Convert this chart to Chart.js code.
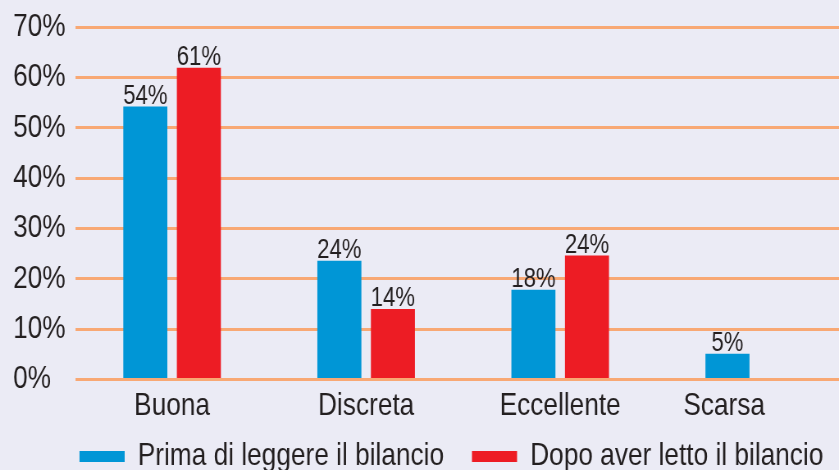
<!DOCTYPE html>
<html>
<head>
<meta charset="utf-8">
<script src="https://cdn.jsdelivr.net/npm/chart.js@4.4.0/dist/chart.umd.min.js"></script>
<style>
  html, body { margin: 0; padding: 0; background: #ebebf5; overflow: hidden; width: 839px; height: 470px; }
  #wrap { width: 1038px; height: 470px; transform: scaleX(0.8201); transform-origin: 0 0; }
</style>
</head>
<body>
<div id="wrap"><canvas id="c" width="1038" height="470"></canvas></div>
<script>
const categories = ['Buona', 'Discreta', 'Eccellente', 'Scarsa'];
const seriesNames = ['Prima di leggere il bilancio', 'Dopo aver letto il bilancio'];
const primaValues = [54.2, 23.6, 17.8, 5.1];
const dopoValues = [61.9, 14.0, 24.6, null];
const primaLabels = ['54%', '24%', '18%', '5%'];
const dopoLabels = ['61%', '14%', '24%', ''];
const yTicks = [0, 10, 20, 30, 40, 50, 60, 70];

const FONT = "'Liberation Sans', Arial, sans-serif";
const TEXT = '#231f20';
const BLUE = '#0096d6';
const RED = '#ed1c24';
const GRID = '#f8a874';

const tweaks = {
  id: 'tweaks',
  afterLayout(chart) {
    // pull the legend up towards the category labels
    const lg = chart.legend;
    lg.top -= 19;
    lg.bottom -= 19;
  },
  beforeDraw(chart) {
    // the lone "Scarsa" label sits centred under its single bar
    const xs = chart.scales.x;
    const items = xs.getLabelItems(chart.chartArea);
    const last = items[items.length - 1];
    if (last && !last._shifted) {
      last.options.translation[0] -= xs.width / categories.length * 0.155;
      last._shifted = true;
    }
  },
  afterDatasetsDraw(chart) {
    const ctx = chart.ctx;
    const texts = [primaLabels, dopoLabels];
    ctx.save();
    ctx.font = '27px ' + FONT;
    ctx.fillStyle = TEXT;
    ctx.textAlign = 'center';
    ctx.textBaseline = 'alphabetic';
    chart.data.datasets.forEach((ds, di) => {
      const meta = chart.getDatasetMeta(di);
      meta.data.forEach((bar, i) => {
        if (ds.data[i] == null) return;
        ctx.fillText(texts[di][i], bar.x, bar.y - 3);
      });
    });
    ctx.restore();
  }
};

new Chart(document.getElementById('c'), {
  type: 'bar',
  data: {
    labels: categories,
    datasets: [
      { label: seriesNames[0], data: primaValues, backgroundColor: BLUE },
      { label: seriesNames[1], data: dopoValues, backgroundColor: RED }
    ]
  },
  plugins: [tweaks],
  options: {
    responsive: false,
    animation: false,
    devicePixelRatio: 1,
    categoryPercentage: 0.552,
    barPercentage: 0.822,
    layout: { padding: { left: 16, right: 0, top: 27, bottom: -31.5 } },
    plugins: {
      tooltip: { enabled: false },
      legend: {
        position: 'bottom',
        align: 'end',
        labels: {
          font: { family: FONT, size: 32 },
          color: TEXT,
          boxWidth: 55,
          boxHeight: 11,
          padding: 34
        }
      }
    },
    scales: {
      x: {
        grid: { display: false },
        border: { display: false },
        ticks: { font: { family: FONT, size: 32 }, color: TEXT, padding: -1 },
        afterFit(s) { s.height = 46; }
      },
      y: {
        min: 0, max: 70,
        afterBuildTicks(s) { s.ticks = yTicks.map(v => ({ value: v })); },
        grid: { color: GRID, lineWidth: 3, drawTicks: false },
        border: { display: false },
        ticks: {
          font: { family: FONT, size: 32 }, color: TEXT,
          crossAlign: 'far',
          callback: v => v + '%'
        },
        afterFit(s) { s.width = 75.5; }
      }
    }
  }
});
</script>
</body>
</html>
